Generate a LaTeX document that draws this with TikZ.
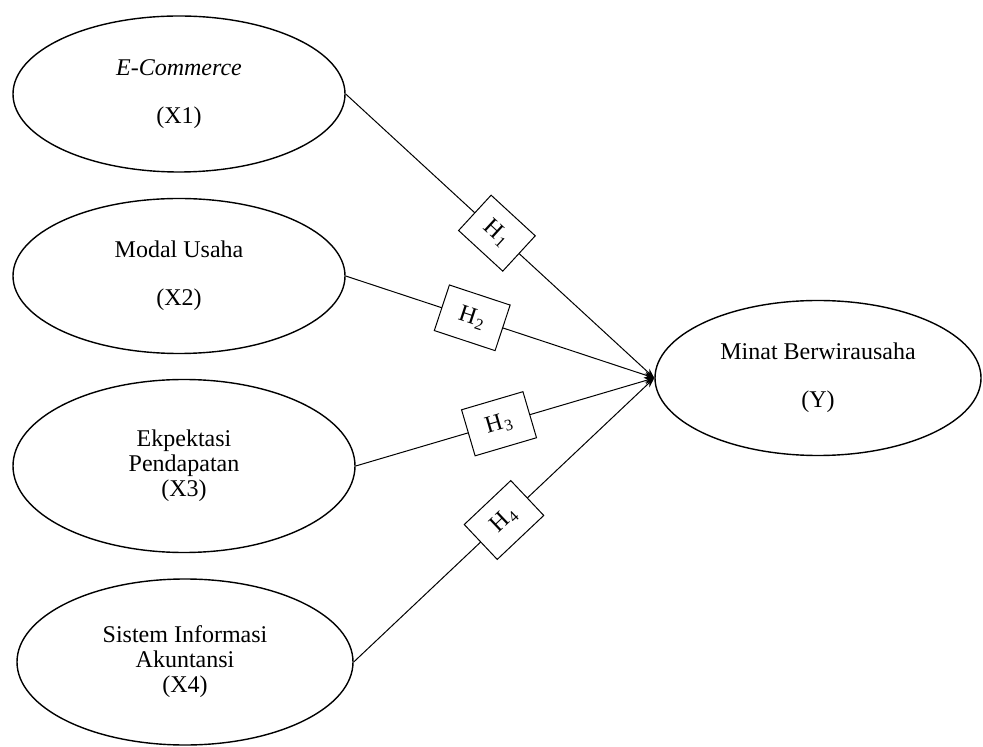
\documentclass[tikz,border=0pt]{standalone}
\usepackage{fontspec}
\setmainfont{Liberation Serif}
\usetikzlibrary{shapes,arrows.meta}
\pgfdeclarelayer{edgelayer}
\pgfdeclarelayer{nodelayer}
\pgfsetlayers{edgelayer,nodelayer,main}
\tikzset{font=\fontsize{12}{12.5}\selectfont}
\tikzstyle{none}=[inner sep=0pt]
\tikzstyle{var}=[ellipse,draw,line width=0.7pt,inner sep=0pt,align=center]
\tikzstyle{hyp}=[rectangle,draw,fill=white,line width=0.5pt,minimum width=32pt,minimum height=24pt,inner sep=0pt,sloped]
\tikzstyle{arr}=[line width=0.5pt,-{Stealth[length=5pt,width=3.5pt]}]
\newcommand{\hyplabel}[1]{H\kern0.6pt\textsubscript{#1}}

\begin{document}
\begin{tikzpicture}[x=0.5pt,y=-0.5pt]
	\useasboundingbox (0,0) rectangle (983,747);
	\begin{pgfonlayer}{nodelayer}
		\node [style=var, minimum width=166pt, minimum height=78pt] (0) at (179, 94) {\textit{E-Commerce}\\[11.5pt](X1)};
		\node [style=var, minimum width=166pt, minimum height=77.5pt] (1) at (179, 276) {Modal Usaha\\[11.5pt](X2)};
		\node [style=var, minimum width=171pt, minimum height=86.5pt] (2) at (184, 466) {Ekpektasi\\Pendapatan\\(X3)};
		\node [style=var, minimum width=168pt, minimum height=83pt] (3) at (185, 662) {Sistem Informasi\\Akuntansi\\(X4)};
		\node [style=var, minimum width=163pt, minimum height=77.5pt] (4) at (818, 378) {Minat Berwirausaha\\[11.5pt](Y)};
	\end{pgfonlayer}
	\begin{pgfonlayer}{edgelayer}
		\draw [style=arr] (0.east) to node [style=hyp, pos=0.49, minimum width=30pt] {\hyplabel{1}} (4.west);
		\draw [style=arr] (1.east) to node [style=hyp, pos=0.41] {\hyplabel{2}} (4.west);
		\draw [style=arr] (2.east) to node [style=hyp, pos=0.48] {\hyplabel{3}} (4.west);
		\draw [style=arr] (3.east) to node [style=hyp, pos=0.5] {\hyplabel{4}} (4.west);
	\end{pgfonlayer}
\end{tikzpicture}
\end{document}
